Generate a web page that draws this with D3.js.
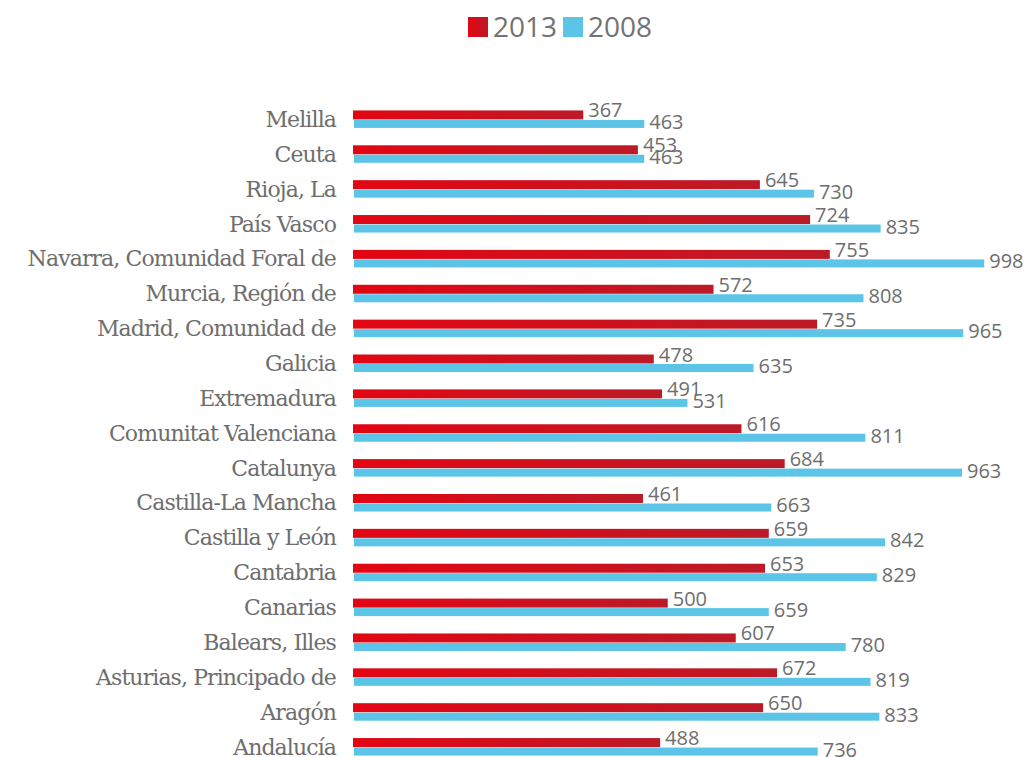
<!DOCTYPE html>
<html>
<head>
<meta charset="utf-8">
<script src="https://cdn.jsdelivr.net/npm/d3@7"></script>
<style>
  html, body { margin: 0; padding: 0; background: #fff; }
  svg { display: block; }
</style>
</head>
<body>
<svg id="chart" width="1027" height="757"></svg>
<script>
const categories = [
  "Melilla", "Ceuta", "Rioja, La", "País Vasco", "Navarra, Comunidad Foral de",
  "Murcia, Región de", "Madrid, Comunidad de", "Galicia", "Extremadura",
  "Comunitat Valenciana", "Catalunya", "Castilla-La Mancha", "Castilla y León",
  "Cantabria", "Canarias", "Balears, Illes", "Asturias, Principado de",
  "Aragón", "Andalucía"
];
const values2013 = [367, 453, 645, 724, 755, 572, 735, 478, 491, 616, 684, 461, 659, 653, 500, 607, 672, 650, 488];
const values2008 = [463, 463, 730, 835, 998, 808, 965, 635, 531, 811, 963, 663, 842, 829, 659, 780, 819, 833, 736];
const seriesNames = ["2013", "2008"];

const RED_A = "#e30613", RED_B = "#bc1a27", BLUE = "#5bc4e7";
const TEXT = "#6e6e6e";

const svg = d3.select("#chart");
const defs = svg.append("defs");
const grad = defs.append("linearGradient").attr("id", "redGrad")
  .attr("x1", "0").attr("x2", "1").attr("y1", "0").attr("y2", "0");
grad.append("stop").attr("offset", "0%").attr("stop-color", RED_A);
grad.append("stop").attr("offset", "100%").attr("stop-color", RED_B);

const x = d3.scaleLinear().domain([0, 1000]).range([350, 985.5]);
const y = d3.scaleBand().domain(categories).range([102, 764.5]).padding(0);
const c = d => y(d) + y.bandwidth() / 2;

const rows = categories.map((name, i) => ({ name, v13: values2013[i], v08: values2008[i] }));

// category labels
svg.append("g").selectAll("text").data(rows).join("text")
  .attr("x", 336).attr("y", d => c(d.name) + 7.5)
  .attr("text-anchor", "end")
  .attr("font-family", "'DejaVu Serif', serif")
  .attr("font-size", 22)
  .attr("letter-spacing", "-0.9")
  .attr("fill", TEXT)
  .text(d => d.name);

const bars = svg.append("g");
const x0 = x(0) + 3;
bars.selectAll("rect.r13").data(rows).join("rect").attr("class", "r13")
  .attr("x", x0).attr("y", d => c(d.name) - 9)
  .attr("width", d => x(d.v13) - x0).attr("height", 9)
  .attr("fill", "url(#redGrad)");
bars.selectAll("rect.r08").data(rows).join("rect").attr("class", "r08")
  .attr("x", x0 + 1).attr("y", d => c(d.name) + 0.5)
  .attr("width", d => x(d.v08) - x0 - 1).attr("height", 8)
  .attr("fill", BLUE);

const lab = svg.append("g").attr("font-family", "'Open Sans', sans-serif")
  .attr("font-size", 20).attr("fill", TEXT);
lab.selectAll("text.l13").data(rows).join("text").attr("class", "l13")
  .attr("x", d => x(d.v13) + 5).attr("y", d => c(d.name) - 2)
  .text(d => d.v13);
lab.selectAll("text.l08").data(rows).join("text").attr("class", "l08")
  .attr("x", d => x(d.v08) + 5).attr("y", d => c(d.name) + 9.5)
  .text(d => d.v08);

// legend
const legend = svg.append("g");
const legX = [468, 563];
seriesNames.forEach((s, i) => {
  legend.append("rect").attr("x", legX[i]).attr("y", 17).attr("width", 20).attr("height", 20)
    .attr("fill", i === 0 ? "url(#redGrad)" : BLUE);
  legend.append("text").attr("x", legX[i] + 25).attr("y", 37)
    .attr("font-family", "'Open Sans', sans-serif").attr("font-size", 28)
    .attr("fill", "#737373").text(s);
});
</script>
</body>
</html>
